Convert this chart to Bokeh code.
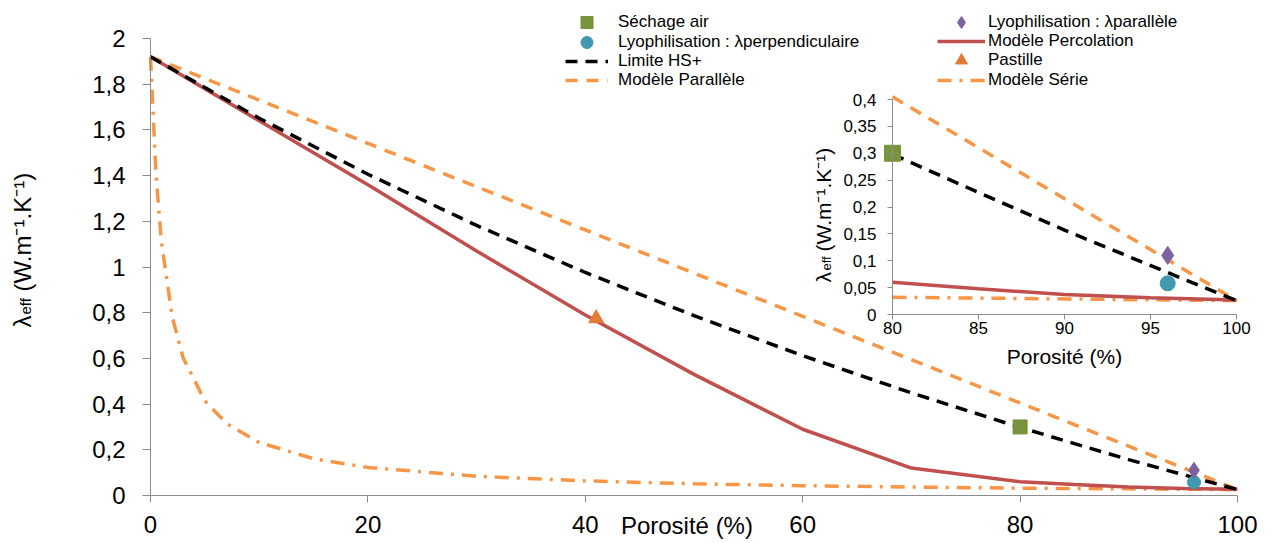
from math import pi
from bokeh.plotting import figure
from bokeh.models import (Range1d, FixedTicker, CustomJSTickFormatter, Legend,
                          LegendItem, Label, LinearAxis)
from bokeh.embed import file_html
from bokeh.resources import INLINE

FONT = "Liberation Sans"

# ---------------- data ----------------
hs_x = [0, 10, 20, 30, 40, 50, 60, 70, 80, 85, 90, 96, 100]
hs_y = [1.92, 1.651, 1.406, 1.182, 0.976, 0.787, 0.612, 0.449, 0.298, 0.227, 0.157, 0.078, 0.026]

par_x = [0, 20, 40, 60, 80, 100]
par_y = [1.92, 1.541, 1.162, 0.784, 0.405, 0.026]

serie_x = [0, 0.5, 1, 2, 3, 5, 7, 10, 15, 20, 30, 40, 50, 60, 70, 80, 90, 96, 100]
serie_y = [1.92, 1.408, 1.111, 0.781, 0.603, 0.414, 0.315, 0.232, 0.161, 0.123,
           0.084, 0.064, 0.051, 0.043, 0.037, 0.032, 0.029, 0.027, 0.026]

perc_x = [0, 10, 20, 30, 40, 50, 60, 70, 80, 85, 90, 95, 100]
perc_y = [1.92, 1.64, 1.36, 1.07, 0.79, 0.53, 0.29, 0.12, 0.06, 0.048, 0.037, 0.031, 0.027]

sechage_x, sechage_y = [80], [0.30]
lyo_par_x, lyo_par_y = [96], [0.11]
lyo_perp_x, lyo_perp_y = [96], [0.058]
pastille_x, pastille_y = [41], [0.775]

main_xticks = [0, 20, 40, 60, 80, 100]
main_yticks = [0, 0.2, 0.4, 0.6, 0.8, 1, 1.2, 1.4, 1.6, 1.8, 2]
inset_xticks = [80, 85, 90, 95, 100]
inset_yticks = [0, 0.05, 0.1, 0.15, 0.2, 0.25, 0.3, 0.35, 0.4]

x_title = "Porosité (%)"
y_title_parts = ["λ", "eff", "(W.m⁻¹.K⁻¹)"]

legend_left = ["Séchage air", "Lyophilisation : λperpendiculaire", "Limite HS+", "Modèle Parallèle"]
legend_right = ["Lyophilisation : λparallèle", "Modèle Percolation", "Pastille", "Modèle Série"]

# ---------------- styles ----------------
C_GREEN = "#77933C"
C_TEAL = "#4198AF"
C_PURPLE = "#7E62A0"
C_RED = "#C0504D"
C_ORANGE = "#F79646"
C_TRI = "#E07B39"
C_AXIS = "#8C8C8C"

W, H = 1270, 540


def rng(v0, p0, v1, p1, lo, hi):
    """Range so that value v0 sits at pixel p0 and v1 at p1 (pixels along the axis)."""
    k = (v1 - v0) / (p1 - p0)
    return Range1d(v0 + (lo - p0) * k, v0 + (hi - p0) * k)


# main plot area: x 0..100 -> px 150..1237, y 0..2 -> px 495..38 (from top)
x_main = rng(0, 150, 100, 1237, 0, W)
y_main = rng(0, H - 495, 2, H - 38, 0, H)
# inset area: x 80..100 -> px 892..1236, y 0..0.4 -> px 314..99
x_ins = rng(80, 892, 100, 1236, 0, W)
y_ins = rng(0, H - 314, 0.4, H - 99, 0, H)

p = figure(width=W, height=H, x_range=x_main, y_range=y_main,
           x_axis_type=None, y_axis_type=None,
           output_backend="svg", toolbar_location=None,
           min_border=0, min_border_left=0, min_border_right=0,
           min_border_top=0, min_border_bottom=0)
p.extra_x_ranges = {"ix": x_ins}
p.extra_y_ranges = {"iy": y_ins}
p.outline_line_color = None
p.grid.visible = False
p.background_fill_color = "white"
p.border_fill_color = "white"

fmt_main = CustomJSTickFormatter(code="return String(Math.round(tick*100)/100).replace('.', ',');")
fmt_ins = CustomJSTickFormatter(code="return String(Math.round(tick*100)/100).replace('.', ',');")


def make_axis(side, ticks, loc, bounds, tick_font, tick_out, standoff, fmt=None, **kw):
    ax = LinearAxis(ticker=FixedTicker(ticks=ticks), fixed_location=loc, bounds=bounds, **kw)
    ax.axis_line_color = C_AXIS
    ax.major_tick_line_color = C_AXIS
    ax.minor_tick_line_color = None
    ax.major_tick_in = 0
    ax.major_tick_out = tick_out
    ax.major_label_text_font = FONT
    ax.major_label_text_font_size = tick_font
    ax.major_label_text_color = "#000000"
    ax.major_label_standoff = standoff
    if fmt is not None:
        ax.formatter = fmt
    p.add_layout(ax, side)
    return ax


make_axis("below", main_xticks, 0, (0, 100), "24px", 7, 13)
make_axis("left", main_yticks, 0, (0, 2), "24px", 8, 17, fmt_main)
ax_ix = make_axis("below", inset_xticks, 0, (80, 100), "17px", 5, 2,
                  x_range_name="ix", y_range_name="iy")
ax_ix.axis_label = x_title
ax_ix.axis_label_text_font = FONT
ax_ix.axis_label_text_font_size = "21px"
ax_ix.axis_label_text_font_style = "normal"
ax_ix.axis_label_text_color = "#000000"
ax_ix.axis_label_standoff = 8
make_axis("left", inset_yticks, 80, (0, 0.4), "17px", 5, 11, fmt_ins,
          x_range_name="ix", y_range_name="iy")


def draw_series(xs_filter, lw, sizes, **rn):
    def sub(xs, ys):
        pts = [(a, b) for a, b in zip(xs, ys) if a >= xs_filter]
        return [a for a, _ in pts], [b for _, b in pts]

    r = {}
    r["par"] = p.line(*sub(par_x, par_y), line_color=C_ORANGE, line_width=lw, line_dash="12 9", **rn)
    r["serie"] = p.line(*sub(serie_x, serie_y), line_color=C_ORANGE, line_width=lw,
                        line_dash="14 8 3 8", **rn)
    r["perc"] = p.line(*sub(perc_x, perc_y), line_color=C_RED, line_width=lw, **rn)
    r["hs"] = p.line(*sub(hs_x, hs_y), line_color="black", line_width=lw, line_dash="12 8", **rn)
    r["sech"] = p.scatter(sechage_x, sechage_y, marker="square", size=sizes[0],
                          fill_color=C_GREEN, line_color=C_GREEN, **rn)
    r["perp"] = p.scatter(lyo_perp_x, lyo_perp_y, marker="circle", size=sizes[1],
                          fill_color=C_TEAL, line_color=C_TEAL, **rn)
    r["parl"] = p.scatter(lyo_par_x, lyo_par_y, marker="diamond", size=sizes[2],
                          fill_color=C_PURPLE, line_color=C_PURPLE, **rn)
    return r


r = draw_series(0, 3.5, [14, 13, 16])
r["past"] = p.scatter(pastille_x, pastille_y, marker="triangle", size=15,
                      fill_color=C_TRI, line_color=C_TRI)
draw_series(80, 3.5, [16, 15, 18], x_range_name="ix", y_range_name="iy")


def y_title(px, py, big, small, d_eff, d_rest):
    # rotated label "λeff (W.m-1.K-1)" built from pieces; (px, py) = page pixel of start
    common = dict(x_units="screen", y_units="screen", angle=pi / 2, text_font=FONT,
                  text_color="#000000", text_align="left", text_baseline="alphabetic")
    p.add_layout(Label(x=px, y=H - py, text=y_title_parts[0], text_font_size=big, **common))
    p.add_layout(Label(x=px + 3, y=H - py + d_eff, text=y_title_parts[1], text_font_size=small, **common))
    p.add_layout(Label(x=px, y=H - py + d_rest, text=y_title_parts[2], text_font_size=big, **common))


y_title(22, 327, "24px", "15px", 13, 36)
y_title(823, 282, "21px", "13px", 12, 31)

p.add_layout(Label(x=49.35, y=H - 525, x_units="data", y_units="screen", text=x_title,
                   text_font=FONT, text_font_size="24px", text_color="#000000",
                   text_align="center", text_baseline="middle"))

# legends: one per row so that markers get a good size
left_keys = ["sech", "perp", "hs", "par"]
right_keys = ["parl", "perc", "past", "serie"]
left_rows = [22, 42, 61, 80]
right_rows = [22, 41, 60, 80]


def add_leg(label, rend, x, row_c, gw, standoff):
    lg = Legend(items=[LegendItem(label=label, renderers=[rend])],
                location=(x, H - (row_c + 15)), orientation="vertical",
                glyph_width=gw, glyph_height=30, label_height=30, label_standoff=standoff,
                padding=0, margin=0, spacing=0, border_line_alpha=0, background_fill_alpha=0,
                label_text_font=FONT, label_text_font_size="17px", label_text_color="#000000")
    p.add_layout(lg)


for lab, k, rc in zip(legend_left, left_keys, left_rows):
    add_leg(lab, r[k], 565, rc, 43, 10)
for lab, k, rc in zip(legend_right, right_keys, right_rows):
    add_leg(lab, r[k], 937, rc, 48, 3)

open("out.html", "w").write(file_html(p, INLINE))
